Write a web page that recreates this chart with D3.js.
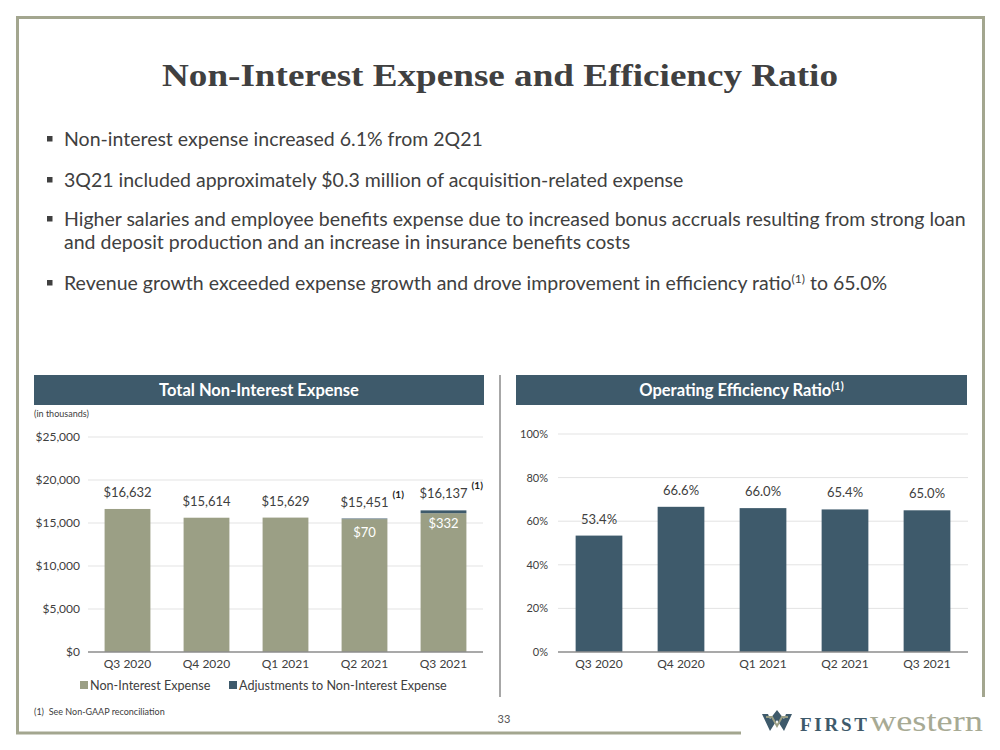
<!DOCTYPE html>
<html><head><meta charset="utf-8">
<script src="https://cdn.jsdelivr.net/npm/d3@7"></script>
<style>
html,body{margin:0;padding:0;background:#fff;}
svg{display:block;font-family:Lato, "Open Sans", sans-serif;}
</style></head>
<body><svg id="c" width="1000" height="750"></svg>
<script>
const categories = ["Q3 2020","Q4 2020","Q1 2021","Q2 2021","Q3 2021"];
const nonInterestExpense = [16632,15614,15629,15451,16137];
const adjustments = [0,0,0,70,332];
const footnoteFlags = [false,false,false,true,true];
const efficiencyRatio = [53.4,66.6,66.0,65.4,65.0];
const leftTicks = [0,5000,10000,15000,20000,25000];
const rightTicks = [0,20,40,60,80,100];
const bullets = [
  ["Non-interest expense increased 6.1% from 2Q21"],
  ["3Q21 included approximately $0.3 million of acquisition-related expense"],
  ["Higher salaries and employee benefits expense due to increased bonus accruals resulting from strong loan","and deposit production and an increase in insurance benefits costs"],
  ["Revenue growth exceeded expense growth and drove improvement in efficiency ratio","(1)"," to 65.0%"]
];

const OLIVE="#9b9f85", SLATE="#3e5a6b", TXT="#404040", FRAME="#a3a68f";
const svg=d3.select("#c");

// frame
svg.append("path").attr("d","M741,733 H17.5 V17.5 H983.5 V697").attr("fill","none").attr("stroke",FRAME).attr("stroke-width",3);

// title
svg.append("text").attr("x",500).attr("y",86).attr("text-anchor","middle")
  .attr("font-family","'Liberation Serif','DejaVu Serif',serif").attr("font-weight","bold")
  .attr("font-size",32).attr("fill",TXT).attr("textLength",676).attr("lengthAdjust","spacingAndGlyphs")
  .text("Non-Interest Expense and Efficiency Ratio");

// bullets
const by=[146,187,226,290];
bullets.forEach((b,i)=>{
  svg.append("rect").attr("x",47).attr("y",by[i]-10).attr("width",5.5).attr("height",5.5).attr("fill",TXT);
  if(i===3){
    const t=svg.append("text").attr("x",64).attr("y",by[i]).attr("font-size",19.5).attr("fill",TXT);
    t.append("tspan").text(b[0]);
    t.append("tspan").attr("font-size",12).attr("dy",-7).text(b[1]);
    t.append("tspan").attr("dy",7).text(b[2]);
  } else {
    b.forEach((line,j)=>{
      svg.append("text").attr("x",64).attr("y",by[i]+j*23).attr("font-size",19.5).attr("fill",TXT).text(line);
    });
  }
});

// headers
function header(x0,x1,label,sup){
  svg.append("rect").attr("x",x0).attr("y",375).attr("width",x1-x0).attr("height",30).attr("fill",SLATE);
  const t=svg.append("text").attr("x",(x0+x1)/2).attr("y",396).attr("text-anchor","middle")
    .attr("font-size",16.5).attr("font-weight","bold").attr("fill","#fff");
  t.append("tspan").text(label);
  if(sup) t.append("tspan").attr("font-size",11).attr("dy",-6).text(sup);
}
header(34,484,"Total Non-Interest Expense");
header(516,967,"Operating Efficiency Ratio","(1)");

// divider
svg.append("line").attr("x1",500).attr("x2",500).attr("y1",375).attr("y2",697).attr("stroke","#8a8a8a").attr("stroke-width",1.5);

// ---------- left chart ----------
const xL=d3.scaleBand().domain(categories).range([88,483]).paddingInner(0.42).paddingOuter(0.21);
const yL=d3.scaleLinear().domain([0,25000]).range([652,437]);
svg.append("text").attr("x",34).attr("y",417).attr("font-size",9).attr("fill",TXT).text("(in thousands)");
const gL=svg.append("g");
gL.append("g").selectAll("line").data(leftTicks.filter(d=>d>0)).join("line")
  .attr("x1",88).attr("x2",483).attr("y1",d=>yL(d)).attr("y2",d=>yL(d)).attr("stroke","#e3e3e3").attr("stroke-width",1);
const axL=gL.append("g").attr("transform","translate(88,0)")
  .call(d3.axisLeft(yL).tickValues(leftTicks).tickSize(0).tickPadding(8).tickFormat(d=>"$"+d3.format(",")(d)));
axL.select(".domain").remove();
axL.selectAll("text").attr("font-size",12).attr("fill",TXT).attr("font-family","Lato");
const data=categories.map((c,i)=>({c,v:nonInterestExpense[i],a:adjustments[i],f:footnoteFlags[i]}));
gL.selectAll(".b").data(data).join("rect")
  .attr("x",d=>xL(d.c)).attr("width",xL.bandwidth()).attr("y",d=>yL(d.v)).attr("height",d=>yL(0)-yL(d.v)).attr("fill",OLIVE);
gL.selectAll(".a").data(data.filter(d=>d.a>0)).join("rect")
  .attr("x",d=>xL(d.c)).attr("width",xL.bandwidth()).attr("y",d=>yL(d.v+d.a)).attr("height",d=>yL(d.v)-yL(d.v+d.a)).attr("fill",SLATE);
gL.append("line").attr("x1",88).attr("x2",483).attr("y1",yL(0)).attr("y2",yL(0)).attr("stroke","#8c8c8c").attr("stroke-width",1.5);
data.forEach(d=>{
  const cx=xL(d.c)+xL.bandwidth()/2;
  const ly=yL(d.v+d.a)-12;
  const lab=gL.append("text").attr("x",cx).attr("y",ly).attr("text-anchor","middle")
    .attr("font-size",13).attr("fill",TXT).text("$"+d3.format(",")(d.v));
  if(d.f){
    const w=lab.node().getComputedTextLength();
    gL.append("text").attr("x",cx+w/2+4).attr("y",ly-9).attr("font-size",10).attr("font-weight","bold").attr("fill","#222").text("(1)");
  }
  if(d.a>0){
    gL.append("text").attr("x",cx).attr("y",yL(d.v+d.a)+18).attr("text-anchor","middle")
      .attr("font-size",13).attr("fill","#fff").text("$"+d3.format(",")(d.a));
  }
});
gL.selectAll(".xl").data(categories).join("text")
  .attr("x",d=>xL(d)+xL.bandwidth()/2).attr("y",668).attr("text-anchor","middle").attr("font-size",12).attr("fill",TXT).text(d=>d);
// legend
const leg=[["Non-Interest Expense",OLIVE,80],["Adjustments to Non-Interest Expense",SLATE,229]];
leg.forEach(l=>{
  gL.append("rect").attr("x",l[2]).attr("y",681).attr("width",8).attr("height",8).attr("fill",l[1]);
  gL.append("text").attr("x",l[2]+10).attr("y",690).attr("font-size",12.6).attr("fill",TXT).text(l[0]);
});

// ---------- right chart ----------
const xR=d3.scaleBand().domain(categories).range([558,968]).paddingInner(0.43).paddingOuter(0.215);
const yR=d3.scaleLinear().domain([0,100]).range([652,434]);
const gR=svg.append("g");
gR.append("g").selectAll("line").data(rightTicks.filter(d=>d>0)).join("line")
  .attr("x1",558).attr("x2",968).attr("y1",d=>yR(d)).attr("y2",d=>yR(d)).attr("stroke","#e3e3e3");
const axR=gR.append("g").attr("transform","translate(558,0)")
  .call(d3.axisLeft(yR).tickValues(rightTicks).tickSize(0).tickPadding(10).tickFormat(d=>d+"%"));
axR.select(".domain").remove();
axR.selectAll("text").attr("font-size",11).attr("fill",TXT).attr("font-family","Lato");
const rd=categories.map((c,i)=>({c,v:efficiencyRatio[i]}));
gR.selectAll(".r").data(rd).join("rect")
  .attr("x",d=>xR(d.c)).attr("width",xR.bandwidth()).attr("y",d=>yR(d.v)).attr("height",d=>yR(0)-yR(d.v)).attr("fill",SLATE);
gR.append("line").attr("x1",558).attr("x2",968).attr("y1",yR(0)).attr("y2",yR(0)).attr("stroke","#8c8c8c").attr("stroke-width",1.5);
gR.selectAll(".rl").data(rd).join("text")
  .attr("x",d=>xR(d.c)+xR.bandwidth()/2).attr("y",d=>yR(d.v)-12).attr("text-anchor","middle")
  .attr("font-size",13).attr("fill",TXT).text(d=>d.v.toFixed(1)+"%");
gR.selectAll(".xr").data(categories).join("text")
  .attr("x",d=>xR(d)+xR.bandwidth()/2).attr("y",668).attr("text-anchor","middle").attr("font-size",12).attr("fill",TXT).text(d=>d);

// footer
svg.append("text").attr("x",34).attr("y",715).attr("font-size",9).attr("fill",TXT).attr("xml:space","preserve").text("(1)  See Non-GAAP reconciliation");
svg.append("text").attr("x",504).attr("y",723).attr("text-anchor","middle").attr("font-size",11).attr("fill","#555").text("33");

// logo
const lg=svg.append("g");
lg.append("path").attr("d","M762,714 L770,731 L777,720 L784,731 L792,714 L786,714 L784,719 L777,710 L770,719 L768,714 Z").attr("fill",SLATE);
lg.append("path").attr("d","M766,717 L772,717 L777,726 L782,717 L788,717").attr("fill","none").attr("stroke",OLIVE).attr("stroke-width",2);
lg.append("text").attr("x",800).attr("y",731).attr("font-family","'Liberation Serif',serif").attr("font-weight","bold")
  .attr("font-size",19).attr("fill",SLATE).attr("textLength",67).attr("lengthAdjust","spacing").text("FIRST");
lg.append("text").attr("x",870).attr("y",731).attr("font-family","'Liberation Serif',serif")
  .attr("font-size",29).attr("fill","#a7aa94").attr("textLength",113).attr("lengthAdjust","spacingAndGlyphs").text("western");
</script></body></html>
